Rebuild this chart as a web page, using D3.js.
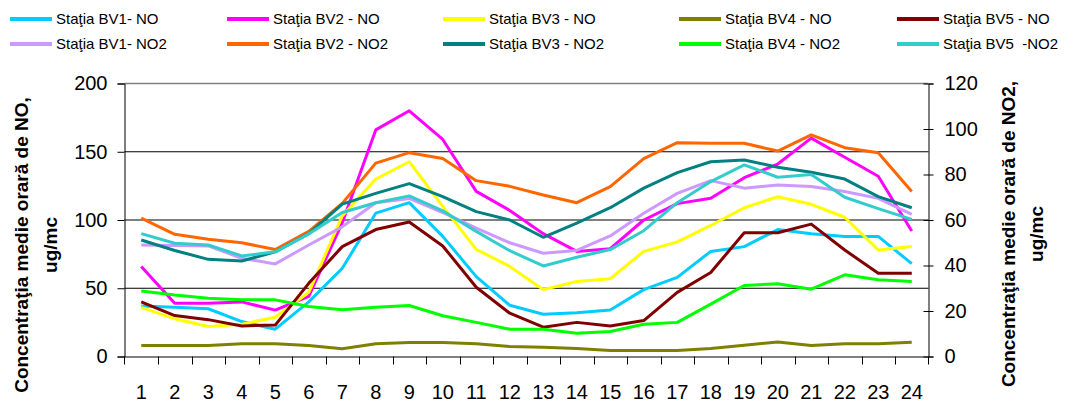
<!DOCTYPE html>
<html><head><meta charset="utf-8">
<script src="https://cdn.jsdelivr.net/npm/d3@7"></script>
<style>
html,body{margin:0;padding:0;background:#fff;}
svg{display:block;font-family:"Liberation Sans",Arial,sans-serif;}
text{white-space:pre;}
</style></head>
<body><svg id="chart" width="1077" height="409"></svg>
<script>
const hours = ["1","2","3","4","5","6","7","8","9","10","11","12","13","14","15","16","17","18","19","20","21","22","23","24"];
const leftTicks = [0,50,100,150,200];
const rightTicks = [0,20,40,60,80,100,120];

// NO series (left axis)
const bv1NO = [37,36,35,25.6,20,40,64.6,105,112.7,88,58.5,37.5,31,32,34,49,58,77,80.5,93,90,88,88,68];
const bv2NO = [66,39,39,40,34,44,98,166,180,159,121,107,90,77,79,100,112,116,131,141,160,146,132,92];
const bv3NO = [36,27.6,22,23.7,28.8,47,103,130,142.7,110,78.5,66,49,55,57,77,84,96,109,117,111.5,102,78,80.5];
const bv4NO = [8,8,8,9.3,9.3,8,5.6,9.3,10.2,10.2,9.3,7.3,6.8,5.9,4.4,4.4,4.4,5.9,8.3,10.7,8,9.3,9.3,10.5];
const bv5NO = [40,30,27,22.4,23,53.6,80.5,93,98.5,81,50.7,31.7,21.5,25,22.4,26.3,47,61.5,90.7,90.7,97,78,61,61];
// NO2 series (right axis)
const bv1NO2 = [49,48.8,48.6,43.2,40.7,49,57,67.6,69.5,63.3,56.4,50,45.4,46.6,53,63,71.7,77.3,74,75.4,74.7,72.5,69.5,62.5];
const bv2NO2 = [60.8,53.7,51.5,50,47,55,67.3,85,89.6,87,77.3,74.8,71,67.6,74.7,87,94,93.7,93.7,90.3,97.4,91.8,89.6,72.5];
const bv3NO2 = [51.2,46.6,42.7,42,46,54,67,71.7,76,70.3,63.7,60,52.4,58.6,65.4,74,80.8,85.6,86.4,83.2,81,78,70.3,65.4];
const bv4NO2 = [28.8,27,25.6,24.9,24.9,22,20.5,21.7,22.4,17.9,15,12,12,10.2,11,14.2,15,23,31.2,32,29.6,35.9,33.7,33];
const bv5NO2 = [54,49.8,49,44.2,46,53.9,63.3,67.6,70.6,64,55,46.5,39.8,43.6,47,55.3,67.6,76.9,84.2,78.8,80,70,65,60.3];

const seriesNames = ["Staţia BV1- NO","Staţia BV2 - NO","Staţia BV3 - NO","Staţia BV4 - NO","Staţia BV5 - NO",
                     "Staţia BV1- NO2","Staţia BV2 - NO2","Staţia BV3 - NO2","Staţia BV4 - NO2","Staţia BV5  -NO2"];
const seriesValues = [bv1NO,bv2NO,bv3NO,bv4NO,bv5NO,bv1NO2,bv2NO2,bv3NO2,bv4NO2,bv5NO2];
const seriesAxis = ["L","L","L","L","L","R","R","R","R","R"];
const colors = ["#00CCFF","#FF00FF","#FFFF00","#808000","#800000","#CC99FF","#FF6600","#008080","#00FF00","#33CCCC"];

const leftTitle = ["Concentraţia medie orară de NO,","ug/mc"];
const rightTitle = ["Concentraţia medie orară de NO2,","ug/mc"];

const svg = d3.select("#chart");
const X0 = 124.5, X1 = 928.5, YT = 83.5, YB = 356.5;

const x = d3.scaleBand().domain(hours).range([X0, X1]).padding(0);
const yL = d3.scaleLinear().domain([0,200]).range([YB, YT]);
const yR = d3.scaleLinear().domain([0,120]).range([YB, YT]);

// gridlines
svg.append("g").selectAll("line").data([50,100,150]).join("line")
  .attr("x1",X0).attr("x2",X1).attr("y1",d=>yL(d)).attr("y2",d=>yL(d))
  .attr("stroke","#000").attr("stroke-width",1);
svg.append("line").attr("x1",X0).attr("x2",X1).attr("y1",yL(200)).attr("y2",yL(200))
  .attr("stroke","#808080").attr("stroke-width",1.5);

// lines
const lineGen = (sc) => d3.line().x((d,i)=>x(hours[i]) + x.bandwidth()/2).y(d=>sc(d));
seriesValues.forEach((vals,k)=>{
  svg.append("path").datum(vals)
    .attr("d", lineGen(seriesAxis[k]==="L"?yL:yR))
    .attr("fill","none").attr("stroke",colors[k]).attr("stroke-width",3)
    .attr("stroke-linejoin","round");
});

// axes
const fontTick = "20px";
const gL = svg.append("g").attr("transform",`translate(${X0},0)`)
  .call(d3.axisLeft(yL).tickValues(leftTicks).tickSize(7).tickPadding(10));
const gR = svg.append("g").attr("transform",`translate(${X1},0)`)
  .call(d3.axisRight(yR).tickValues(rightTicks).tickSize(5).tickPadding(11));
gR.selectAll(".tick line").attr("x1",-5);
const gB = svg.append("g").attr("transform",`translate(0,${YB})`)
  .call(d3.axisBottom(x).tickSize(0).tickPadding(28));
// category separator ticks
svg.append("g").selectAll("line").data(hours.slice(1)).join("line")
  .attr("x1",d=>Math.round(x(d))+0.5).attr("x2",d=>Math.round(x(d))+0.5)
  .attr("y1",YB).attr("y2",YB+8).attr("stroke","#000");
svg.append("line").attr("x1",X0).attr("x2",X0).attr("y1",YB).attr("y2",YB+8).attr("stroke","#000");
svg.append("line").attr("x1",X1).attr("x2",X1).attr("y1",YB).attr("y2",YB+8).attr("stroke","#000");

[gL,gR,gB].forEach(g=>{
  g.selectAll("text").attr("font-size",fontTick).attr("font-family","Liberation Sans, Arial, sans-serif").attr("fill","#000");
  g.selectAll(".domain").attr("stroke","#000");
  g.selectAll(".tick line").attr("stroke","#000");
});
gB.select(".domain").attr("d",`M${X0},0.5H${X1}`);

// axis titles
const lt = svg.append("g").attr("transform","translate(28,245) rotate(-90)");
lt.append("text").attr("text-anchor","middle").attr("font-weight","bold").attr("font-size","19px").text(leftTitle[0]);
lt.append("text").attr("text-anchor","middle").attr("font-weight","bold").attr("font-size","19px").attr("y",29).text(leftTitle[1]);
const rt = svg.append("g").attr("transform","translate(1015,234) rotate(-90)");
rt.append("text").attr("text-anchor","middle").attr("font-weight","bold").attr("font-size","19px").text(rightTitle[0]);
rt.append("text").attr("text-anchor","middle").attr("font-weight","bold").attr("font-size","19px").attr("y",28).text(rightTitle[1]);

// legend
const colX = [10,227,443,679,897];
const leg = svg.append("g");
seriesNames.forEach((n,k)=>{
  const col = k%5, row = Math.floor(k/5);
  const gx = colX[col], gy = row===0?19:44;
  leg.append("line").attr("x1",gx).attr("x2",gx+42).attr("y1",gy).attr("y2",gy)
    .attr("stroke",colors[k]).attr("stroke-width",4);
  leg.append("text").attr("x",gx+46).attr("y",gy+5).attr("font-size","15px").attr("fill","#000").text(n);
});
</script></body></html>
